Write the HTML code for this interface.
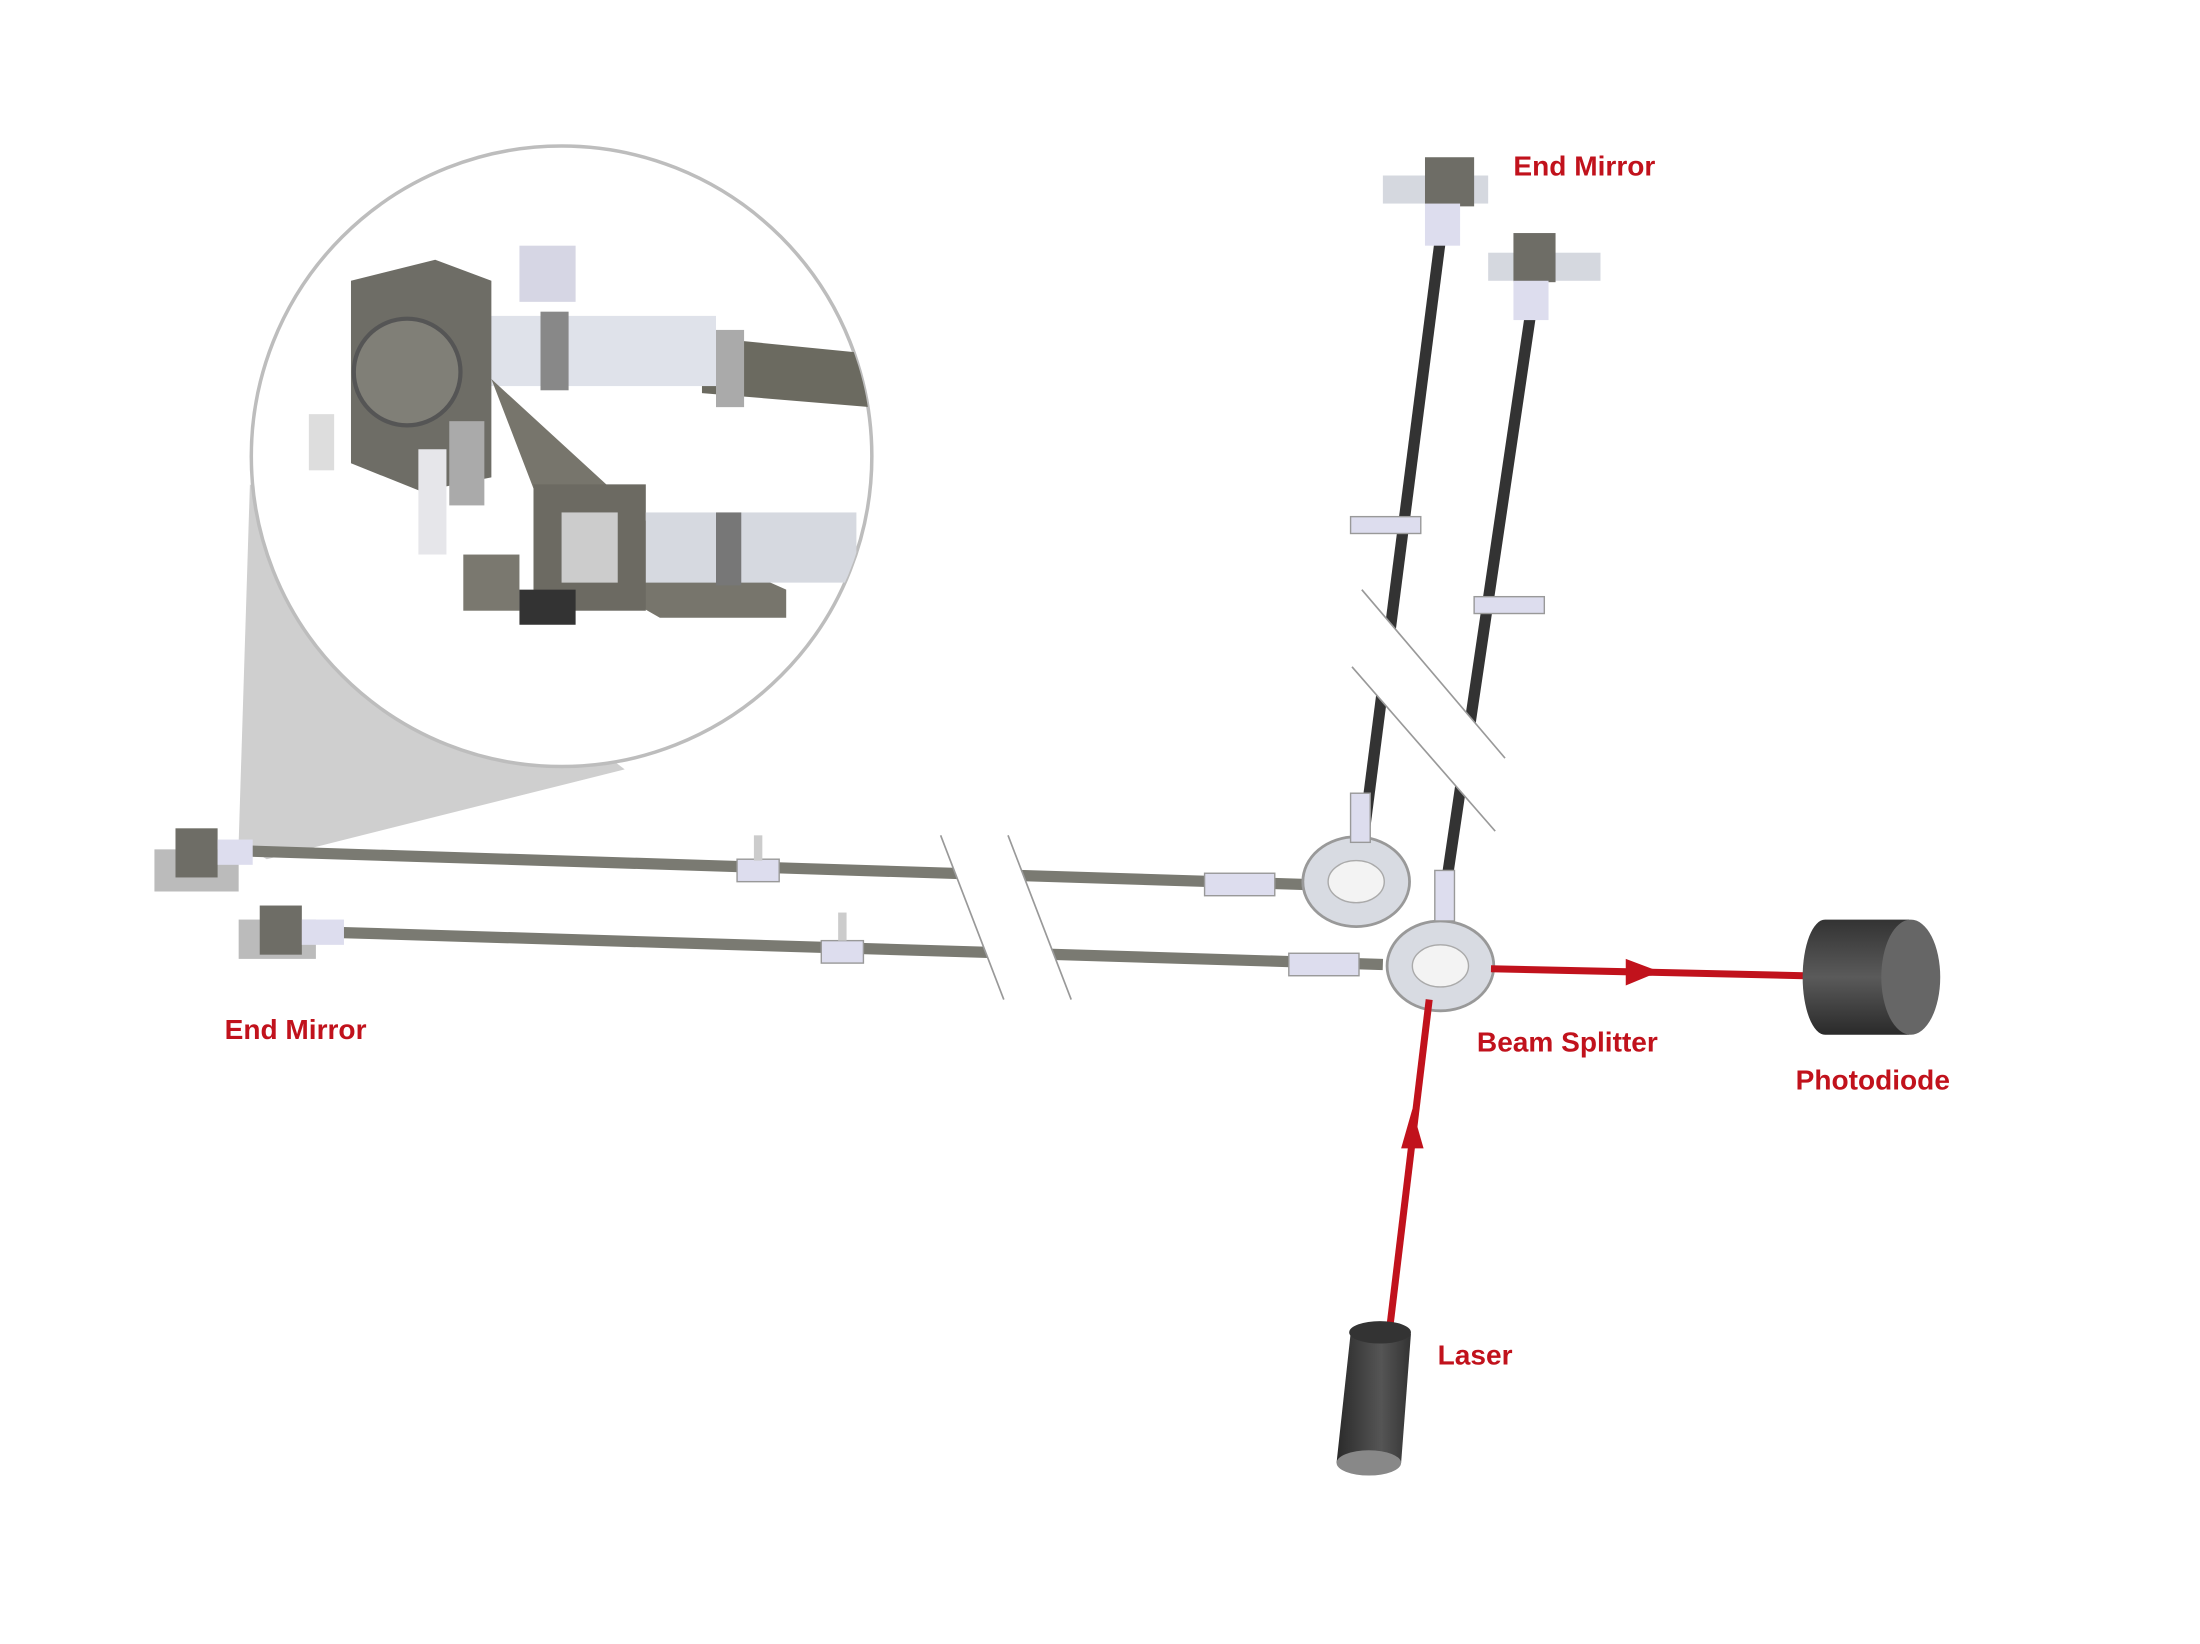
<!DOCTYPE html>
<html><head><meta charset="utf-8"><style>
html,body{margin:0;padding:0;background:#fff;}
svg{display:block}
text{font-family:"Liberation Sans",sans-serif;font-weight:bold;fill:#c1121c;font-size:20px}
</style></head><body>
<svg width="2200" height="1644" viewBox="0 0 1567 1171" preserveAspectRatio="xMinYMin meet" xmlns="http://www.w3.org/2000/svg">
<defs>
<linearGradient id="cyl" x1="0" x2="1"><stop offset="0" stop-color="#2a2a2a"/><stop offset="0.6" stop-color="#555"/><stop offset="1" stop-color="#333"/></linearGradient>
<linearGradient id="cylv" x1="0" y1="0" x2="0" y2="1"><stop offset="0" stop-color="#333"/><stop offset="0.5" stop-color="#5a5a5a"/><stop offset="1" stop-color="#2a2a2a"/></linearGradient>
<clipPath id="cc"><circle cx="400" cy="325" r="221"/></clipPath>
</defs>
<polygon points="178,345 170,600 190,612 445,548" fill="#cfcfcf"/>
<circle cx="400" cy="325" r="221" fill="#fff" stroke="#bdbdbd" stroke-width="2.5"/>
<g clip-path="url(#cc)">
 <path d="M500,240 L620,252 L620,290 L500,280 Z" fill="#6b6a60"/>
 <rect x="340" y="225" width="170" height="50" fill="#dfe2ea"/>
 <rect x="385" y="222" width="20" height="56" fill="#888"/>
 <rect x="510" y="235" width="20" height="55" fill="#aaa"/>
 <path d="M250,200 L310,185 L350,200 L350,340 L300,350 L250,330 Z" fill="#6e6d66"/>
 <circle cx="290" cy="265" r="38" fill="#807f77" stroke="#555" stroke-width="3"/>
 <rect x="200" y="265" width="60" height="35" fill="#bfbfbf" transform="skewX(-25)"/>
 <rect x="220" y="295" width="18" height="40" fill="#ddd"/>
 <rect x="298" y="320" width="20" height="75" fill="#e6e6ea"/>
 <rect x="320" y="300" width="25" height="60" fill="#aaa"/>
 <path d="M350,270 L470,380 L560,420 L560,440 L470,440 L400,400 Z" fill="#77756c"/>
 <rect x="380" y="345" width="80" height="90" fill="#6c6a62"/>
 <rect x="400" y="365" width="40" height="50" fill="#ccc"/>
 <rect x="460" y="365" width="150" height="50" fill="#d6d9e0"/>
 <rect x="510" y="365" width="18" height="52" fill="#777"/>
 <rect x="330" y="395" width="40" height="40" fill="#7a786f"/>
 <rect x="370" y="420" width="40" height="25" fill="#333"/>
 <rect x="370" y="175" width="40" height="40" fill="#ccd" opacity=".8"/>
</g>
<path d="M170,606 L930,630" stroke="#7a7a72" stroke-width="8"/>
<path d="M235,664 L985,687" stroke="#7a7a72" stroke-width="8"/>
<rect x="525" y="612" width="30" height="16" fill="#dde" stroke="#999"/>
<rect x="537" y="595" width="6" height="18" fill="#ccc"/>
<rect x="585" y="670" width="30" height="16" fill="#dde" stroke="#999"/>
<rect x="597" y="650" width="6" height="20" fill="#ccc"/>
<rect x="858" y="622" width="50" height="16" fill="#dde" stroke="#999"/>
<rect x="918" y="679" width="50" height="16" fill="#dde" stroke="#999"/>
<polygon points="670,595 718,595 763,712 715,712" fill="#fff"/>
<line x1="670" y1="595" x2="715" y2="712" stroke="#999" stroke-width="1.2"/>
<line x1="718" y1="595" x2="763" y2="712" stroke="#999" stroke-width="1.2"/>
<path d="M1026,170 L971,598" stroke="#333" stroke-width="8"/>
<path d="M1090,225 L1031,624" stroke="#333" stroke-width="8"/>
<rect x="962" y="368" width="50" height="12" fill="#dde" stroke="#999"/>
<rect x="1050" y="425" width="50" height="12" fill="#dde" stroke="#999"/>
<polygon points="970,420 1072,540 1065,592 963,475" fill="#fff"/>
<line x1="970" y1="420" x2="1072" y2="540" stroke="#999" stroke-width="1.2"/>
<line x1="963" y1="475" x2="1065" y2="592" stroke="#999" stroke-width="1.2"/>
<rect x="985" y="125" width="75" height="20" fill="#d5d8df"/>
<rect x="1015" y="112" width="35" height="35" fill="#6e6d66"/>
<rect x="1015" y="145" width="25" height="30" fill="#dde"/>
<rect x="1060" y="180" width="80" height="20" fill="#d5d8df"/>
<rect x="1078" y="166" width="30" height="35" fill="#6e6d66"/>
<rect x="1078" y="200" width="25" height="28" fill="#dde"/>
<rect x="110" y="605" width="60" height="30" fill="#bbb"/>
<rect x="125" y="590" width="30" height="35" fill="#6e6d66"/>
<rect x="155" y="598" width="25" height="18" fill="#dde"/>
<rect x="170" y="655" width="55" height="28" fill="#bbb"/>
<rect x="185" y="645" width="30" height="35" fill="#6e6d66"/>
<rect x="215" y="655" width="30" height="18" fill="#dde"/>
<ellipse cx="966" cy="628" rx="38" ry="32" fill="#d8dbe2" stroke="#999" stroke-width="2"/>
<ellipse cx="966" cy="628" rx="20" ry="15" fill="#f3f3f3" stroke="#aaa"/>
<rect x="962" y="565" width="14" height="35" fill="#dde" stroke="#999"/>
<ellipse cx="1026" cy="688" rx="38" ry="32" fill="#d8dbe2" stroke="#999" stroke-width="2"/>
<ellipse cx="1026" cy="688" rx="20" ry="15" fill="#f3f3f3" stroke="#aaa"/>
<rect x="1022" y="620" width="14" height="36" fill="#dde" stroke="#999"/>
<line x1="990" y1="945" x2="1018" y2="712" stroke="#c1121c" stroke-width="5"/>
<polygon points="1006,790 998,818 1014,818" fill="#c1121c"/>
<line x1="1062" y1="690" x2="1285" y2="695" stroke="#c1121c" stroke-width="5"/>
<polygon points="1182,692 1158,683 1158,702" fill="#c1121c"/>
<path d="M1300,655 L1360,655 L1360,737 L1300,737 A16,41 0 0,1 1300,655 Z" fill="url(#cylv)"/>
<ellipse cx="1361" cy="696" rx="21" ry="41" fill="#666"/>
<path d="M962,950 L1005,950 L998,1042 L952,1042 Z" fill="url(#cyl)"/>
<ellipse cx="983" cy="949" rx="22" ry="8" fill="#333"/>
<ellipse cx="975" cy="1042" rx="23" ry="9" fill="#888"/>
<text x="1078" y="125">End Mirror</text>
<text x="160" y="740">End Mirror</text>
<text x="1052" y="749">Beam Splitter</text>
<text x="1279" y="776">Photodiode</text>
<text x="1024" y="972">Laser</text>
</svg>
</body></html>
